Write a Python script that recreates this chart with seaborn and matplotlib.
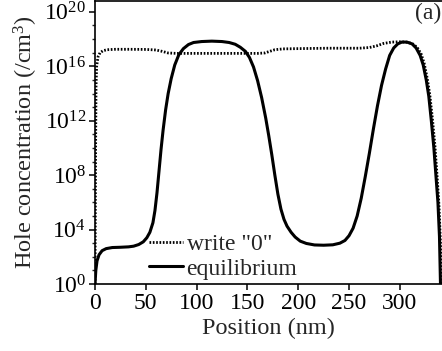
import numpy as np
import pandas as pd
import matplotlib
matplotlib.use("Agg")
import matplotlib.pyplot as plt
import matplotlib.ticker as mticker
import seaborn as sns

# equilibrium hole profile (position nm, log10 of concentration)
eq_pos = [0, 0.8, 2, 4, 7, 11, 17, 25, 33, 38, 43, 47.5, 51, 54, 57, 59, 61, 63, 65, 67,
          69.5, 72, 75, 78.5, 82.5, 87, 92, 97, 105, 115, 125, 132, 138, 143, 148, 152,
          156, 160, 164, 168, 171, 174, 177, 180, 183, 186, 189, 193, 197, 202, 208, 216,
          225, 234, 241, 246, 250, 254, 258, 262, 266, 270, 274, 278, 282, 286, 290, 294,
          298, 302, 307, 312, 316, 320, 323, 326, 328.5, 331, 333.5, 335.5, 337.5, 339, 340]
eq_log = [0.0, 1.0, 1.7, 2.15, 2.45, 2.6, 2.68, 2.7, 2.73, 2.78, 2.9, 3.1, 3.4, 3.8, 4.5,
          5.4, 6.7, 8.3, 9.9, 11.3, 12.8, 14.0, 15.1, 16.1, 16.85, 17.3, 17.6, 17.75, 17.82,
          17.85, 17.82, 17.75, 17.62, 17.4, 17.1, 16.65, 15.95, 14.95, 13.7, 12.2, 10.9,
          9.5, 8.0, 6.6, 5.5, 4.75, 4.25, 3.8, 3.45, 3.15, 2.98, 2.87, 2.85, 2.88, 3.0, 3.2,
          3.55, 4.1, 5.0, 6.3, 7.9, 9.6, 11.4, 13.1, 14.6, 15.8, 16.8, 17.35, 17.65, 17.78,
          17.78, 17.65, 17.35, 16.8, 16.1, 15.0, 13.8, 12.0, 10.0, 8.0, 6.0, 3.5, 0.0]

# write "0" profile
wr_pos = [0, 0.3, 0.6, 1.0, 1.6, 3, 5, 8, 12, 20, 35, 50, 60, 66, 72, 80, 100, 130, 160,
          167, 172, 177, 185, 200, 230, 260, 270, 277, 284, 292, 300, 306, 312, 317, 321,
          324, 327, 329.5, 332, 334.5, 336.5, 338.5, 340, 340.5]
wr_log = [0, 5, 10, 14.5, 16.0, 16.7, 17.0, 17.15, 17.22, 17.25, 17.25, 17.24, 17.2, 17.1,
          16.98, 16.95, 16.95, 16.95, 16.95, 16.98, 17.1, 17.22, 17.28, 17.3, 17.33, 17.33,
          17.38, 17.5, 17.68, 17.78, 17.8, 17.78, 17.68, 17.4, 16.9, 16.2, 15.1, 13.9, 12.2,
          10.2, 8.1, 5.8, 3.0, 0]

eq = pd.DataFrame({"pos": eq_pos, "conc": 10.0 ** np.array(eq_log)})
wr = pd.DataFrame({"pos": wr_pos, "conc": 10.0 ** np.array(wr_log)})

sns.set_style("ticks")
plt.rcParams["font.family"] = ["Liberation Serif", "DejaVu Serif"]
plt.rcParams["mathtext.fontset"] = "custom"
plt.rcParams["mathtext.rm"] = "Liberation Serif"
plt.rcParams["mathtext.it"] = "Liberation Serif:italic"

fig = plt.figure(figsize=(4.42, 3.51), dpi=100)
ax = fig.add_axes([95 / 442, 67 / 351, 347 / 442, 283 / 351])

sns.lineplot(data=wr, x="pos", y="conc", ax=ax, color="black", lw=2.0,
             linestyle=(0, (0.6, 0.6)), label='write "0"', estimator=None, sort=False)
sns.lineplot(data=eq, x="pos", y="conc", ax=ax, color="black", lw=2.2,
             label="equilibrium", estimator=None, sort=False)

ax.set_yscale("log")
ax.set_xlim(0, 341.5)
ax.set_ylim(1, 10 ** 20.8)
ax.set_xticks([0, 50, 100, 150, 200, 250, 300])
ax.set_yticks([1e0, 1e4, 1e8, 1e12, 1e16, 1e20])
ax.yaxis.set_major_formatter(mticker.LogFormatterSciNotation())
ax.yaxis.set_minor_locator(mticker.LogLocator(base=10, subs=(1.0,), numticks=40))
ax.yaxis.set_minor_formatter(mticker.NullFormatter())

ax.tick_params(axis="both", which="major", labelsize=17, length=4, width=1.1,
               direction="out", pad=2.5, color="black", labelcolor="black")
ax.tick_params(axis="y", which="minor", length=2.5, width=1.0, direction="out")
ax.spines["right"].set_visible(False)
for s in ["left", "bottom", "top"]:
    ax.spines[s].set_linewidth(1.2)
    ax.spines[s].set_color("black")

ax.set_xlabel("Position (nm)", fontsize=17.5, labelpad=3)
ax.set_ylabel("Hole concentration (/cm$^3$)", fontsize=17.5, labelpad=3)

ax.text(0.999, 0.995, "(a)", transform=ax.transAxes, ha="right", va="top", fontsize=17)

ax.legend(loc="lower left", bbox_to_anchor=(0.155, 0.015), frameon=False, fontsize=17,
          handlelength=1.45, handletextpad=0.15, borderpad=0, borderaxespad=0,
          labelspacing=0.12)

fig.savefig("out.png", dpi=100)
